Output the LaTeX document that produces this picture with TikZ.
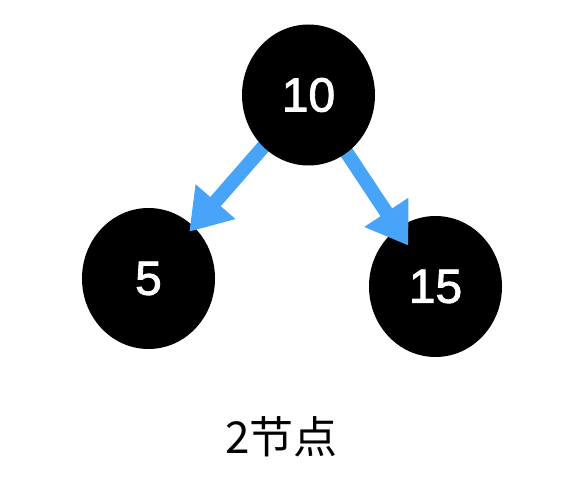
\documentclass[tikz,border=0pt]{standalone}
\usepackage{fontspec}
\setmainfont{Liberation Sans}
\newfontfamily\numfont[FakeBold=1.8]{Liberation Sans}
\newfontfamily\cjk{Noto Sans CJK SC}
\usetikzlibrary{shapes.geometric,arrows.meta}
\definecolor{arrowblue}{HTML}{47A4F8}
\pgfdeclarelayer{front}
\pgfsetlayers{main,front}
\begin{document}
\begin{tikzpicture}[x=1pt,y=-1pt,
    treenode/.style={ellipse,fill=black,inner sep=0pt,minimum width=133pt,minimum height=141pt,
        text=white,font=\fontsize{48}{48}\selectfont\numfont},
    treearrow/.style={draw=arrowblue,line width=14pt,-{Triangle[length=40pt,width=50pt]}}]

        \useasboundingbox (0,0) rectangle (584,502);

        %Drawing the child nodes
        \node[treenode] (n5) at (148.5,278.5) {5};
        \node[treenode] (n15) at (435.5,286.5) {15};

        %root node, kept above the arrow tails
        \begin{pgfonlayer}{front}
        \node[treenode] (n10) at (308.5,95) {10};
        \end{pgfonlayer}

        %connecting arrows between root and children
        \draw[treearrow,shorten >=62pt] (n10.center) -- (n5.center);
        \draw[treearrow,shorten >=49pt] (n10.center) -- (n15.center);

        %caption
        \node (caption) at (281.5,437) {\fontsize{44}{44}\selectfont\cjk 2节点};

    \end{tikzpicture}
\end{document}
